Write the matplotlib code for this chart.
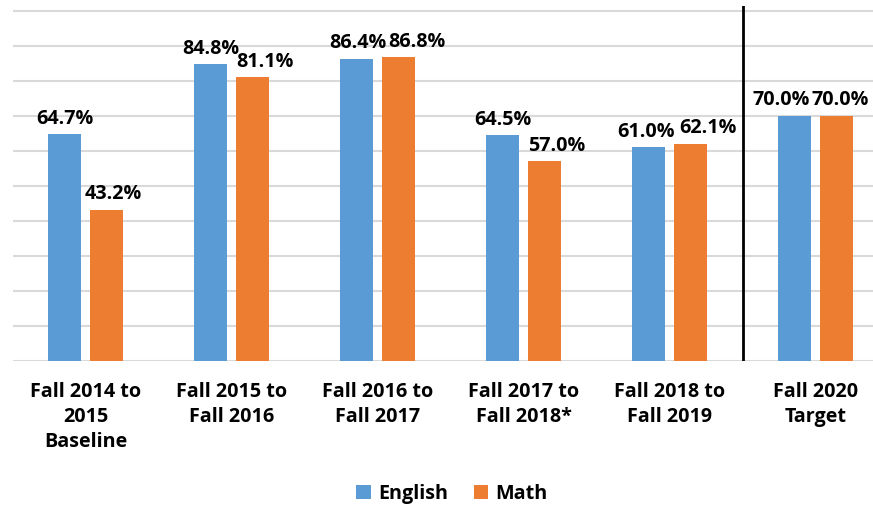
import matplotlib
matplotlib.use("Agg")
import matplotlib.pyplot as plt
import numpy as np

categories = ["Fall 2014 to\n2015\nBaseline", "Fall 2015 to\nFall 2016", "Fall 2016 to\nFall 2017",
              "Fall 2017 to\nFall 2018*", "Fall 2018 to\nFall 2019", "Fall 2020\nTarget"]
english = [64.7, 84.8, 86.4, 64.5, 61.0, 70.0]
math_ = [43.2, 81.1, 86.8, 57.0, 62.1, 70.0]

plt.rcParams['font.family'] = ['Open Sans', 'DejaVu Sans']
blue = "#5B9BD5"
orange = "#ED7D31"
FS = 14.2

fig = plt.figure(figsize=(8.73, 5.08), dpi=100)
W, H = 873, 508
left, right, top, bottom = 12.5, 888.5, 6, 361
ax = fig.add_axes([left / W, 1 - bottom / H, (right - left) / W, (bottom - top) / H])

x = np.arange(len(categories))
bw = 0.226
off = 0.144
ax.bar(x - off, english, bw, color=blue, label="English", zorder=3)
ax.bar(x + off, math_, bw, color=orange, label="Math", zorder=3)

ax.set_xlim(-0.5, len(categories) - 0.5)
ax.set_ylim(0, 101.4)
ax.set_yticks(np.arange(0, 101, 10))
ax.set_yticklabels([])
ax.tick_params(axis='y', length=0)
ax.tick_params(axis='x', length=0, pad=15)
ax.grid(axis='y', color="#D9D9D9", linewidth=1.5, zorder=0)
for s in ax.spines.values():
    s.set_visible(False)
ax.set_xticks(x)
ax.set_xticklabels(categories, fontsize=FS, fontweight='bold', linespacing=1.35)

eng_dx = [0, 0, 1, 0, -2, -13]
math_dx = [7, 12, 18, 12, 17, 4]
for i in range(len(categories)):
    ax.annotate(f"{english[i]:.1f}%", (x[i] - off, english[i]), xytext=(eng_dx[i] * 0.72, 4),
                textcoords='offset points', ha='center', va='bottom', fontsize=FS, fontweight='bold')
    ax.annotate(f"{math_[i]:.1f}%", (x[i] + off, math_[i]), xytext=(math_dx[i] * 0.72, 4),
                textcoords='offset points', ha='center', va='bottom', fontsize=FS, fontweight='bold',
                annotation_clip=False)

ax.axvline(4.5, ymin=0, ymax=1, color='black', linewidth=2, zorder=4)

handles, labels = ax.get_legend_handles_labels()
fig.legend(handles, labels, loc='center', bbox_to_anchor=(452 / W, 1 - 494 / H), ncol=2, frameon=False,
           prop={'size': FS, 'weight': 'bold'}, handlelength=0.75, handleheight=0.75, handletextpad=0.35,
           columnspacing=1.3)

fig.savefig("out.png", dpi=100)
